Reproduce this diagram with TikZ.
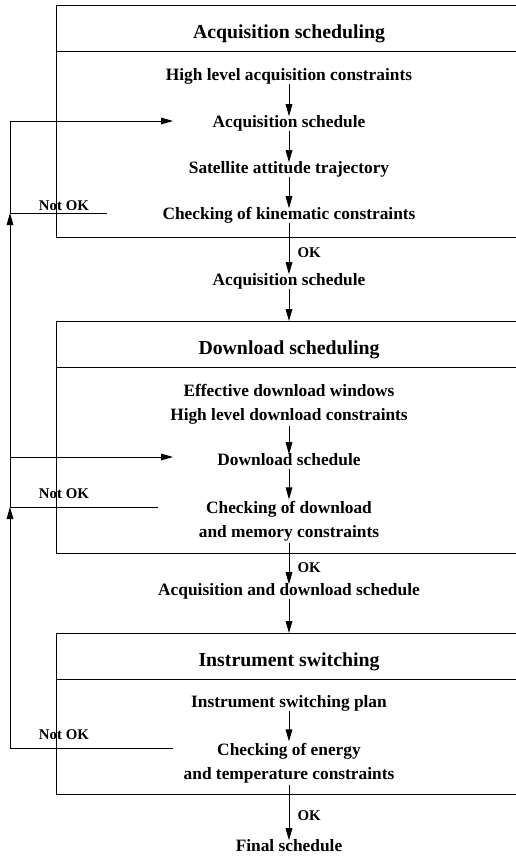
\documentclass[tikz,border=0pt]{standalone}
\usepackage{fontspec}
\setmainfont{Liberation Serif}
\usetikzlibrary{arrows.meta,positioning}

\tikzset{
  flow/.style={-{Triangle[length=3.6mm,width=2mm]}},
  txt/.style={font=\bfseries\fontsize{14.8}{20.5}\selectfont, align=center, inner sep=1pt},
  stage/.style={txt, text height=0.78em, text depth=0.18em},
  title/.style={font=\bfseries\fontsize{16.9}{20}\selectfont, inner sep=1pt},
  verdict/.style={font=\bfseries\fontsize{12.7}{15}\selectfont, inner sep=1pt},
  phase/.style={draw, minimum width=13.98cm, anchor=north, inner sep=0pt},
}

\begin{document}
\begin{tikzpicture}[x=0.03cm, y=-0.03cm, line width=0.8pt]
    \useasboundingbox (0,0) rectangle (516,859);
    % acquisition scheduling
    \node[phase, minimum height=6.96cm] (acqbox) at (289,5) {};
    \draw ([yshift=-1.38cm]acqbox.north west) -- ([yshift=-1.38cm]acqbox.north east);
    \node[title] (acqtitle) at (289,34) {Acquisition scheduling};
    \node[stage] (hlacq) at (289,76.5) {High level acquisition constraints};
    \node[stage] (acqsched) at (289,123.5) {Acquisition schedule};
    \node[stage] (attitude) at (289,169.5) {Satellite attitude trajectory};
    \node[stage] (kinchk) at (289,215.5) {Checking of kinematic constraints};
    \node[stage] (acqout) at (289,281.5) {Acquisition schedule};
    % download scheduling
    \node[phase, minimum height=6.96cm] (dlbox) at (289,321) {};
    \draw ([yshift=-1.38cm]dlbox.north west) -- ([yshift=-1.38cm]dlbox.north east);
    \node[title] (dltitle) at (289,350) {Download scheduling};
    \node[txt] (dlin) at (289,404) {Effective download windows\\High level download constraints};
    \node[stage] (dlsched) at (289,461.5) {Download schedule};
    \node[txt] (dlchk) at (289,521) {Checking of download\\and memory constraints};
    \node[stage] (dlout) at (289,591.5) {Acquisition and download schedule};
    % instrument switching
    \node[phase, minimum height=4.83cm] (swbox) at (289,633) {};
    \draw ([yshift=-1.38cm]swbox.north west) -- ([yshift=-1.38cm]swbox.north east);
    \node[title] (swtitle) at (289,661.5) {Instrument switching};
    \node[stage] (swplan) at (289,703.5) {Instrument switching plan};
    \node[txt] (enchk) at (289,763) {Checking of energy\\and temperature constraints};
    \node[stage] (final) at (289,847.5) {Final schedule};

    \draw[flow] (hlacq) -- (acqsched);
    \draw[flow] (acqsched) -- (attitude);
    \draw[flow] (attitude) -- (kinchk);
    \draw[flow] (kinchk) -- node[verdict, right=6pt, pos=0.58] (ok1) {OK} (acqout);
    \draw[flow] (acqout) -- (dlbox.north);
    \draw[flow] (dlin) -- (dlsched);
    \draw[flow] (dlsched) -- (dlchk);
    \draw[flow] (dlchk) -- node[verdict, right=6pt, pos=0.6] (ok2) {OK} (dlout);
    \draw[flow] (dlout) -- (swbox.north);
    \draw[flow] (swplan) -- (enchk);
    \draw[flow] (enchk) -- node[verdict, right=6pt, pos=0.56] (ok3) {OK} (final);

    % feedback loops
    \coordinate (rail) at (10,0);
    \coordinate (nok1) at (107,213);
    \coordinate (nok2) at (158,507);
    \coordinate (nok3) at (173,748);
    \coordinate (ret1) at (173,121);
    \coordinate (ret2) at (173,457);
    \draw (nok1) -- (nok1 -| rail) -- (ret1 -| rail);
    \draw[flow] (ret1 -| rail) -- (ret1);
    \draw (nok2) -- (nok2 -| rail) -- (ret2 -| rail);
    \draw[flow] (ret2 -| rail) -- (ret2);
    \draw[flow] (ret2 -| rail) -- (nok1 -| rail);
    \draw[flow] (nok3) -- (nok3 -| rail) -- (nok2 -| rail);
    \node[verdict] (nokl1) at (64,206) {Not OK};
    \node[verdict] (nokl2) at (64,494) {Not OK};
    \node[verdict] (nokl3) at (64,735) {Not OK};
\end{tikzpicture}
\end{document}
